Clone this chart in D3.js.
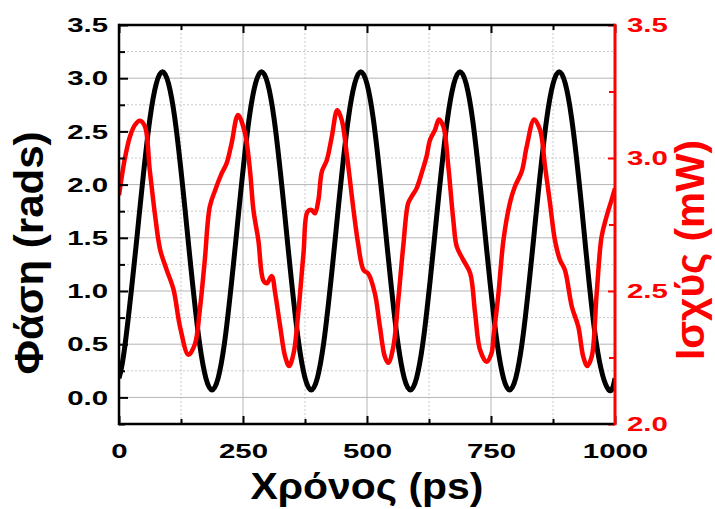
<!DOCTYPE html>
<html>
<head>
<meta charset="utf-8">
<script src="https://cdn.jsdelivr.net/npm/d3@7"></script>
<style>
  html, body { margin: 0; padding: 0; background: #fff; }
  svg text { font-family: "Liberation Sans", Arial, sans-serif; font-weight: bold; }
</style>
</head>
<body>
<svg id="chart" width="715" height="509"></svg>
<script>
// ---- data ----
const xTicks = [0, 250, 500, 750, 1000];
const xMinorTicks = [125, 375, 625, 875];
const yLeftTicks = [0.0, 0.5, 1.0, 1.5, 2.0, 2.5, 3.0, 3.5];
const yLeftMinorTicks = [-0.25, 0.25, 0.75, 1.25, 1.75, 2.25, 2.75, 3.25];
const yRightTicks = [2.0, 2.5, 3.0, 3.5];
const yRightMinorTicks = [2.25, 2.75, 3.25];

// Phase (rads) vs time (ps) — black curve
const phasePoints = [
  [0, 0.18], [12.5, 0.505], [37.5, 1.565], [62.5, 2.625], [87.5, 3.06], [112.5, 2.625], [137.5, 1.565], [162.5, 0.505], [187.5, 0.07],
  [212.5, 0.505], [237.5, 1.565], [262.5, 2.625], [287.5, 3.06], [312.5, 2.625], [337.5, 1.565], [362.5, 0.505], [387.5, 0.07],
  [412.5, 0.505], [437.5, 1.565], [462.5, 2.625], [487.5, 3.06], [512.5, 2.625], [537.5, 1.565], [562.5, 0.505], [587.5, 0.07],
  [612.5, 0.505], [637.5, 1.565], [662.5, 2.625], [687.5, 3.06], [712.5, 2.625], [737.5, 1.565], [762.5, 0.505], [787.5, 0.07],
  [812.5, 0.505], [837.5, 1.565], [862.5, 2.625], [887.5, 3.06], [912.5, 2.625], [937.5, 1.565], [962.5, 0.505], [987.5, 0.07],
  [1000, 0.18]
];

// Power (mW) vs time (ps) — red curve
const powerPoints = [
  [0, 2.86], [12, 3.00], [22, 3.08], [32, 3.124], [42, 3.14], [52, 3.12], [62, 2.955], [73, 2.78], [83, 2.655],
  [96, 2.58], [110, 2.505], [123, 2.366], [140, 2.26], [153, 2.30], [163, 2.43], [173, 2.617], [183, 2.817],
  [194, 2.88], [207, 2.942], [217, 2.98], [227, 3.055], [240, 3.162], [254, 3.093], [264, 2.955], [271, 2.805],
  [281, 2.69], [291, 2.54], [298, 2.529], [308, 2.556], [315, 2.49], [325, 2.366], [335, 2.253], [343, 2.218],
  [352, 2.266], [362, 2.43], [372, 2.642], [380, 2.798], [388, 2.805], [395, 2.792], [402, 2.842], [409, 2.949],
  [419, 2.992], [429, 3.08], [440, 3.18], [449, 3.143], [459, 3.018], [472, 2.817], [482, 2.679], [493, 2.579],
  [503, 2.564], [516, 2.49], [526, 2.366], [536, 2.253], [543, 2.23], [553, 2.29], [563, 2.466], [573, 2.667],
  [583, 2.83], [590, 2.855], [600, 2.886], [610, 2.942], [620, 3.005], [627, 3.068], [637, 3.105], [645, 3.145],
  [654, 3.118], [664, 2.967], [674, 2.767], [681, 2.667], [694, 2.617], [708, 2.567], [718, 2.416], [728, 2.278],
  [741, 2.234], [751, 2.266], [755, 2.328], [765, 2.49], [775, 2.69], [788, 2.83], [798, 2.892], [812, 2.949],
  [822, 3.043], [837, 3.145], [849, 3.105], [859, 2.967], [869, 2.83], [879, 2.69], [889, 2.617], [899, 2.579],
  [913, 2.441], [926, 2.366], [936, 2.253], [944, 2.218], [953, 2.253], [963, 2.49], [973, 2.704], [983, 2.78],
  [993, 2.842], [1000, 2.886]
];

const xLabel = "Χρόνος (ps)";
const yLeftLabel = "Φάση (rads)";
const yRightLabel = "Ισχύς (mW)";

// ---- layout ----
const L = 119, R = 615, T = 25, B = 424;
const RED = "#ff0000";
const svg = d3.select("#chart");

const x = d3.scaleLinear().domain([0, 1000]).range([L, R]);
const yL = d3.scaleLinear().domain([-0.25, 3.5]).range([B, T]);
const yR = d3.scaleLinear().domain([2.0, 3.5]).range([B, T]);

// ---- grid ----
const grid = svg.append("g");
grid.selectAll(".vmin").data(xMinorTicks).join("line")
  .attr("x1", d => x(d)).attr("x2", d => x(d)).attr("y1", T).attr("y2", B)
  .attr("stroke", "#c8c8c8").attr("stroke-width", 1).attr("stroke-dasharray", "2,2");
grid.selectAll(".hmin").data(yLeftMinorTicks.filter(d => d > -0.25)).join("line")
  .attr("x1", L).attr("x2", R).attr("y1", d => yL(d)).attr("y2", d => yL(d))
  .attr("stroke", "#c8c8c8").attr("stroke-width", 1).attr("stroke-dasharray", "2,2");
grid.selectAll(".vmaj").data(xTicks.filter(d => d > 0 && d < 1000)).join("line")
  .attr("x1", d => x(d)).attr("x2", d => x(d)).attr("y1", T).attr("y2", B)
  .attr("stroke", "#b4b4b4").attr("stroke-width", 1);
grid.selectAll(".hmaj").data(yLeftTicks.filter(d => d < 3.5)).join("line")
  .attr("x1", L).attr("x2", R).attr("y1", d => yL(d)).attr("y2", d => yL(d))
  .attr("stroke", "#b4b4b4").attr("stroke-width", 1);

// ---- curves ----
svg.append("clipPath").attr("id", "clip").append("rect")
  .attr("x", L).attr("y", T).attr("width", R - L).attr("height", B - T);
const plot = svg.append("g").attr("clip-path", "url(#clip)");

plot.append("path").datum(phasePoints)
  .attr("fill", "none").attr("stroke", "#000").attr("stroke-width", 5)
  .attr("stroke-linejoin", "round")
  .attr("d", d3.line().x(d => x(d[0])).y(d => yL(d[1])).curve(d3.curveNatural));

plot.append("path").datum(powerPoints)
  .attr("fill", "none").attr("stroke", RED).attr("stroke-width", 4.5)
  .attr("stroke-linejoin", "round")
  .attr("d", d3.line().x(d => x(d[0])).y(d => yR(d[1])).curve(d3.curveCatmullRom.alpha(0.5)));

// ---- axes ----
function styleAxis(g, color, width) {
  g.select(".domain").remove();
  g.selectAll(".tick line").attr("stroke", color).attr("stroke-width", width);
  g.selectAll(".tick text").attr("fill", color);
}
function stretch(sel, f) {
  sel.each(function () {
    const w = this.getComputedTextLength();
    d3.select(this).attr("textLength", w * f).attr("lengthAdjust", "spacingAndGlyphs");
  });
}

// bottom
const gB = svg.append("g").attr("transform", `translate(0,${B})`)
  .call(d3.axisBottom(x).tickValues(xTicks).tickSize(-8).tickPadding(19).tickFormat(d3.format("d")));
styleAxis(gB, "#000", 2);
gB.selectAll(".tick text").attr("font-size", 21);
stretch(gB.selectAll(".tick text"), 1.4);
const gBm = svg.append("g").attr("transform", `translate(0,${B})`)
  .call(d3.axisBottom(x).tickValues(xMinorTicks).tickSize(-5).tickFormat(""));
styleAxis(gBm, "#000", 2);

// top
const gT = svg.append("g").attr("transform", `translate(0,${T})`)
  .call(d3.axisTop(x).tickValues(xTicks).tickSize(-8).tickFormat(""));
styleAxis(gT, "#000", 2);
const gTm = svg.append("g").attr("transform", `translate(0,${T})`)
  .call(d3.axisTop(x).tickValues(xMinorTicks).tickSize(-5).tickFormat(""));
styleAxis(gTm, "#000", 2);

// left
const gL = svg.append("g").attr("transform", `translate(${L},0)`)
  .call(d3.axisLeft(yL).tickValues(yLeftTicks).tickSize(-9).tickPadding(11).tickFormat(d3.format(".1f")));
styleAxis(gL, "#000", 2);
gL.selectAll(".tick text").attr("font-size", 21);
stretch(gL.selectAll(".tick text"), 1.4);
const gLm = svg.append("g").attr("transform", `translate(${L},0)`)
  .call(d3.axisLeft(yL).tickValues(yLeftMinorTicks).tickSize(-6).tickFormat(""));
styleAxis(gLm, "#000", 2);

// right
const gR = svg.append("g").attr("transform", `translate(${R},0)`)
  .call(d3.axisRight(yR).tickValues(yRightTicks).tickSize(-7).tickPadding(12).tickFormat(d3.format(".1f")));
styleAxis(gR, RED, 2);
gR.selectAll(".tick text").attr("font-size", 21);
stretch(gR.selectAll(".tick text"), 1.4);
const gRm = svg.append("g").attr("transform", `translate(${R},0)`)
  .call(d3.axisRight(yR).tickValues(yRightMinorTicks).tickSize(-6).tickFormat(""));
styleAxis(gRm, RED, 2);

// frame
const frame = svg.append("g");
frame.append("line").attr("x1", L).attr("x2", R).attr("y1", T).attr("y2", T).attr("stroke", "#000").attr("stroke-width", 2.5);
frame.append("line").attr("x1", L).attr("x2", R).attr("y1", B).attr("y2", B).attr("stroke", "#000").attr("stroke-width", 2.5);
frame.append("line").attr("x1", L).attr("x2", L).attr("y1", T - 1.25).attr("y2", B + 1.25).attr("stroke", "#000").attr("stroke-width", 2.5);
frame.append("line").attr("x1", R).attr("x2", R).attr("y1", T - 1.25).attr("y2", B + 1.25).attr("stroke", RED).attr("stroke-width", 3);

// ---- titles ----
svg.append("text").text(xLabel)
  .attr("x", (L + R) / 2).attr("y", 499).attr("text-anchor", "middle")
  .attr("font-size", 37).attr("fill", "#000")
  .attr("textLength", 233).attr("lengthAdjust", "spacingAndGlyphs");

svg.append("text").text(yLeftLabel)
  .attr("transform", "translate(43,253) rotate(-90)").attr("text-anchor", "middle")
  .attr("font-size", 40).attr("fill", "#000")
  .attr("textLength", 243).attr("lengthAdjust", "spacingAndGlyphs");

svg.append("text").text(yRightLabel)
  .attr("transform", "translate(704,250) rotate(-90)").attr("text-anchor", "middle")
  .attr("font-size", 40).attr("fill", RED)
  .attr("textLength", 220).attr("lengthAdjust", "spacingAndGlyphs");
</script>
</body>
</html>
